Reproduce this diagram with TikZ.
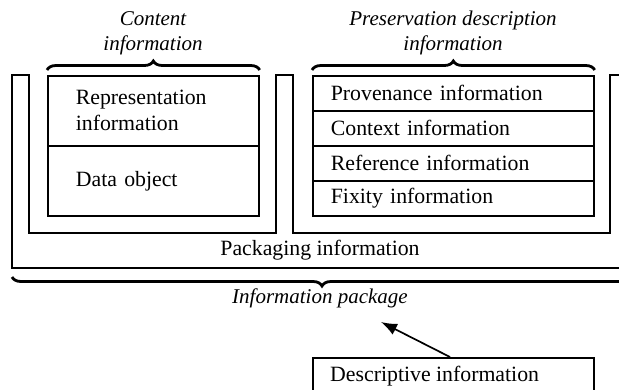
\documentclass[tikz,border=0pt]{standalone}
\usepackage{fontspec}
\setmainfont{Liberation Serif}
\usetikzlibrary{decorations.pathreplacing,arrows.meta,calc}
\begin{document}
\begin{tikzpicture}[x=1pt,y=-1pt,
  every node/.style={font=\fontsize{21.8}{26}\selectfont},
  line/.style={line width=1.7pt},
  cell/.style={draw,line width=1.7pt,anchor=north west,inner ysep=0pt,
               align=left,minimum width=#1},
  lbl/.style={font=\fontsize{21}{25}\selectfont\itshape,align=center,inner sep=0pt},
  brc/.style={decorate,decoration={brace,amplitude=9pt},line width=2.8pt}]
\useasboundingbox (0,0) rectangle (619,389);
% outer package outline (comb)
\draw[line] (630,268) -- (12,268) -- (12,75) -- (29,75) -- (29,233) -- (276,233)
  -- (276,75) -- (293,75) -- (293,233) -- (610,233) -- (610,75) -- (630,75);
% content information boxes
\node[cell=211pt,inner xsep=28pt,text width=155pt,minimum height=70pt] (rep) at (47,75)
  {Representation\\information};
\node[cell=211pt,inner xsep=28pt,text width=155pt,minimum height=70pt] (data) at (47,145)
  {Data object};
% preservation description boxes
\node[cell=281pt,inner xsep=18pt,text width=245pt,minimum height=35pt] (prov) at (312,75)
  {Provenance information};
\node[cell=281pt,inner xsep=18pt,text width=245pt,minimum height=35pt] (ctx) at (312,110)
  {Context information};
\node[cell=281pt,inner xsep=18pt,text width=245pt,minimum height=35pt] (ref) at (312,145)
  {Reference information};
\node[cell=281pt,inner xsep=18pt,text width=245pt,minimum height=35pt] (fix) at (312,180)
  {Fixity information};
% descriptive information (cut off at the bottom edge)
\node[cell=281pt,inner sep=0pt,minimum height=50pt] (desc) at (312,357) {};
\node[anchor=west,inner sep=0pt] (desct) at ($(desc.north west)+(18,19)$) {Descriptive information};
% labels
\node[inner sep=0pt] (pack) at (320,250) {Packaging information};
\node[lbl] (ci) at (153,33) {Content\\information};
\node[lbl] (pdi) at (453,33) {Preservation description\\information};
\node[lbl] (ip) at (320,298) {Information package};
% braces
\draw[brc] ($(rep.north west)+(0,-5)$) -- ($(rep.north east)+(0,-5)$);
\draw[brc] ($(prov.north west)+(0,-5)$) -- ($(prov.north east)+(0,-5)$);
\draw[brc,decoration={mirror}] (12,277) -- (632,277);
% arrow
\coordinate (tip) at (381,322);
\draw[line,-{Latex[length=16pt,width=12pt]}] ($(desc.north west)+(138,0)$) -- (tip);
\end{tikzpicture}
\end{document}
